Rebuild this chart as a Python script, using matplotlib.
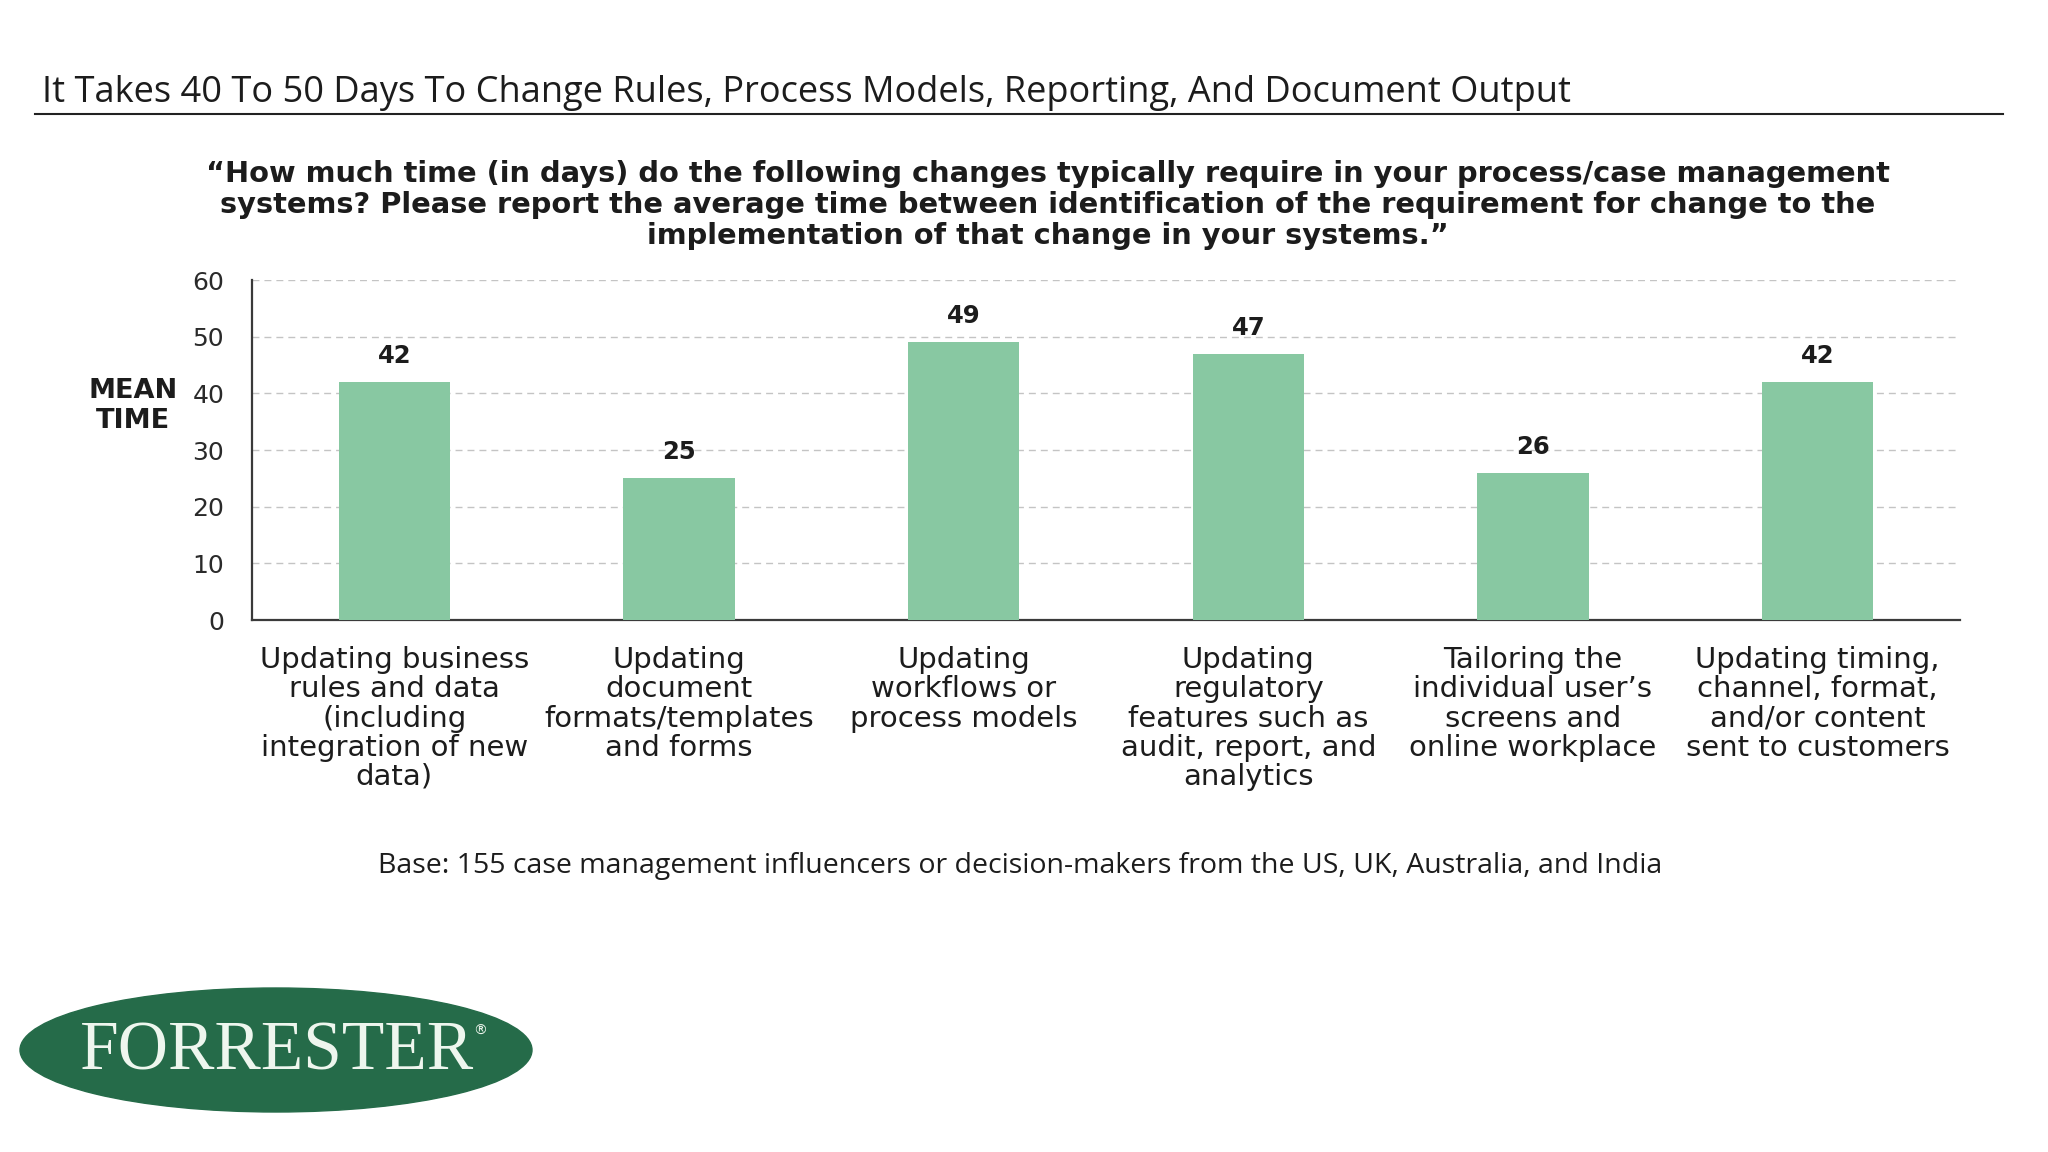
import matplotlib
matplotlib.use("Agg")
import matplotlib.pyplot as plt
from matplotlib.patches import Ellipse
from matplotlib.lines import Line2D

categories = [
    "Updating business\nrules and data\n(including\nintegration of new\ndata)",
    "Updating\ndocument\nformats/templates\nand forms",
    "Updating\nworkflows or\nprocess models",
    "Updating\nregulatory\nfeatures such as\naudit, report, and\nanalytics",
    "Tailoring the\nindividual user\u2019s\nscreens and\nonline workplace",
    "Updating timing,\nchannel, format,\nand/or content\nsent to customers",
]
values = [42, 25, 49, 47, 26, 42]
yticks = [0, 10, 20, 30, 40, 50, 60]

title = "It Takes 40 To 50 Days To Change Rules, Process Models, Reporting, And Document Output"
question = ("\u201cHow much time (in days) do the following changes typically require in your process/case management\n"
            "systems? Please report the average time between identification of the requirement for change to the\n"
            "implementation of that change in your systems.\u201d")
base = "Base: 155 case management influencers or decision-makers from the US, UK, Australia, and India"

W, H = 2048, 1152
fig = plt.figure(figsize=(W / 100, H / 100), dpi=100)
fig.patch.set_facecolor("white")

def fx(x):
    return x / W

def fy(y):
    return 1 - y / H

TXT = "#1c1c1c"
ax = fig.add_axes([fx(252), fy(620), fx(1960) - fx(252), fy(280) - fy(620)])
bar_color = "#88c8a2"
xs = list(range(len(values)))
bars = ax.bar(xs, values, width=0.39, color=bar_color, zorder=3)
ax.set_xlim(-0.5, len(values) - 0.5)
ax.set_ylim(0, 60)
ax.set_yticks(yticks)
ax.set_yticklabels([str(t) for t in yticks], fontsize=18, family="DejaVu Sans", color="#2a2a2a")
ax.tick_params(axis="y", length=0, pad=20)
ax.set_xticks(xs)
ax.set_xticklabels(categories, fontsize=21, family="DejaVu Sans", color=TXT, linespacing=1.05)
ax.tick_params(axis="x", length=0, pad=19)
for spine in ["top", "right"]:
    ax.spines[spine].set_visible(False)
for spine in ["left", "bottom"]:
    ax.spines[spine].set_color("#3a3a3a")
    ax.spines[spine].set_linewidth(1.6)
ax.yaxis.grid(True, linestyle=(0, (5, 3.6)), color="#c4c4c4", linewidth=1.0, zorder=0)
ax.set_axisbelow(True)

for b, v in zip(bars, values):
    ax.annotate(str(v), (b.get_x() + b.get_width() / 2, v), xytext=(0, 10), textcoords="offset points",
                ha="center", va="bottom", fontsize=17.5, fontweight="bold", family="DejaVu Sans", color=TXT)

fig.text(fx(133), fy(406), "MEAN\nTIME", ha="center", va="center", fontsize=19.5, fontweight="bold",
         family="DejaVu Sans", color=TXT, linespacing=1.15)

# Title and underline
fig.text(fx(42), fy(93), title, ha="left", va="center", fontsize=26, family="Open Sans", color=TXT)
fig.add_artist(Line2D([fx(35), fx(2003)], [fy(114), fy(114)], color="#222222", linewidth=1.5))

# Question
fig.text(fx(1048), fy(205), question, ha="center", va="center", fontsize=20.8, fontweight="bold",
         family="DejaVu Sans", color=TXT, linespacing=1.12)

# Base
fig.text(fx(1020), fy(866), base, ha="center", va="center", fontsize=20.5, family="Open Sans", color=TXT)

# Logo
logo_ax = fig.add_axes([0, 0, 1, 1], facecolor="none")
logo_ax.set_xlim(0, W)
logo_ax.set_ylim(H, 0)
logo_ax.axis("off")
logo_ax.add_patch(Ellipse((276, 1050), 512, 124, color="#256b49"))
logo_ax.text(277, 1069, "FORRESTER", ha="center", va="baseline", fontsize=50, family="Liberation Serif",
             color="#eef6ee")
logo_ax.text(480, 1031, "\u00ae", ha="center", va="center", fontsize=10, family="DejaVu Sans", color="#eef6ee")

fig.savefig("out.png", dpi=100, facecolor="white")
